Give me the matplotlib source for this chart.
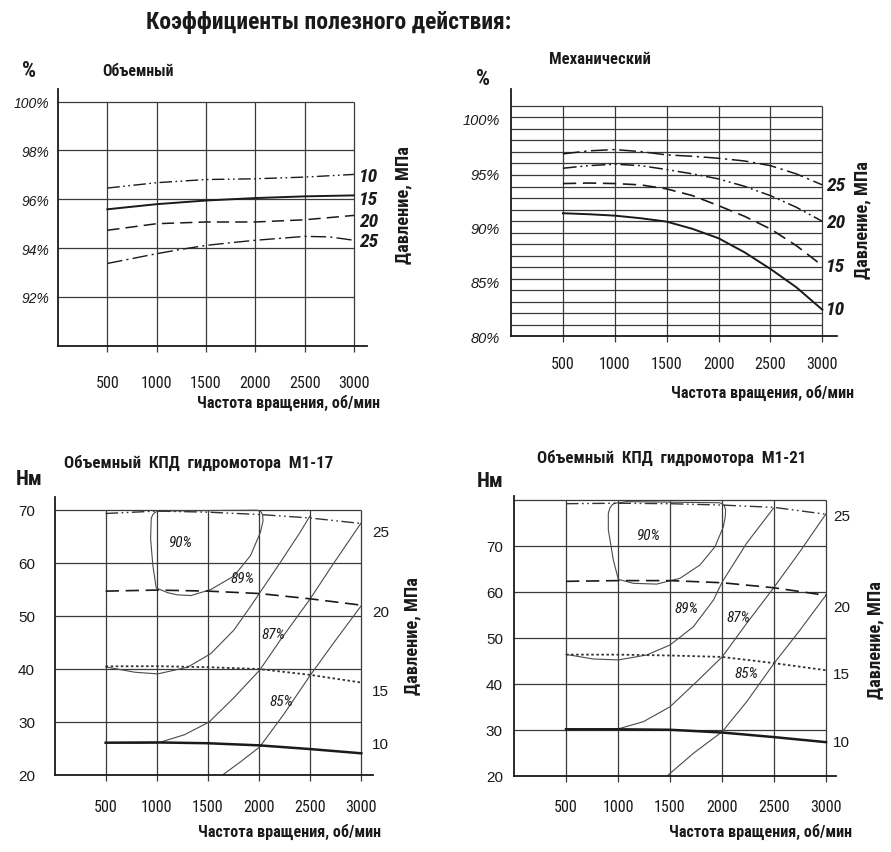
import os
import matplotlib
matplotlib.use("Agg")
import matplotlib.pyplot as plt
from matplotlib import font_manager
from matplotlib.font_manager import FontProperties

# ---------------------------------------------------------------- data
rpm = [500, 1000, 1500, 2000, 2500, 3000]
rpm_q = [500, 750, 1000, 1250, 1500, 1750, 2000, 2250, 2500, 2750, 3000]
rpm_labels = ["500", "1000", "1500", "2000", "2500", "3000"]

# volumetric efficiency, % (pressure 10/15/20/25 MPa)
vol_10 = [96.46, 96.68, 96.81, 96.84, 96.91, 97.02]
vol_15 = [95.59, 95.80, 95.95, 96.05, 96.12, 96.16]
vol_20 = [94.73, 95.00, 95.07, 95.07, 95.16, 95.34]
vol_25 = [93.37, 93.57, 93.77, 93.95, 94.11, 94.22, 94.32, 94.40, 94.48, 94.46, 94.32]
vol_ticks = [92, 94, 96, 98, 100]

# mechanical efficiency, %
mech_25 = [96.78, 97.06, 97.18, 96.99, 96.69, 96.56, 96.38, 96.13, 95.70, 94.94, 93.93]
mech_20 = [95.46, 95.70, 95.83, 95.70, 95.34, 94.94, 94.48, 93.80, 92.94, 91.87, 90.58]
mech_15 = [94.05, 94.10, 94.05, 93.93, 93.56, 92.94, 92.02, 91.04, 89.88, 88.34, 86.50]
mech_10 = [91.32, 91.23, 91.10, 90.86, 90.55, 89.88, 89.02, 87.73, 86.20, 84.51, 82.45]
mech_ticks = [80, 85, 90, 95, 100]

# motor M1-17: torque, N*m, at constant pressure
m17_p25 = [69.25, 69.70, 69.50, 69.06, 68.40, 67.36]
m17_p20 = [54.60, 54.80, 54.60, 54.15, 53.15, 51.95]
m17_p15 = [40.40, 40.44, 40.25, 39.90, 38.80, 37.35]
m17_p10 = [26.00, 26.05, 25.90, 25.50, 24.80, 24.00]
# M1-17 iso-efficiency lines (rpm, N*m)
m17_e90_rpm = [1011, 1500, 1981, 2018, 2035, 2040, 2014, 1917, 1755, 1528, 1334, 1200, 1108, 995, 962, 940, 946, 960, 979, 1011]
m17_e90_nm = [69.7, 69.8, 69.87, 69.6, 69.0, 67.9, 65.7, 61.3, 57.45, 54.9, 53.76, 53.9, 54.3, 55.2, 59.4, 64.5, 68.3, 69.0, 69.4, 69.7]
m17_e89_rpm = [500, 785, 1011, 1302, 1528, 1755, 1917, 2007, 2208, 2402, 2499]
m17_e89_nm = [40.3, 39.3, 38.98, 40.25, 42.8, 47.26, 51.7, 54.27, 60.0, 65.7, 68.8]
m17_e87_rpm = [500, 800, 1011, 1270, 1512, 1755, 2007, 2208, 2499, 2725, 3000]
m17_e87_nm = [26.0, 25.9, 25.95, 27.5, 29.9, 34.5, 39.7, 45.35, 53.1, 59.7, 67.5]
m17_e85_rpm = [1650, 1820, 2007, 2240, 2499, 2725, 3000]
m17_e85_nm = [20.0, 22.4, 25.2, 31.3, 38.66, 44.7, 51.85]
m17_eff_labels = ["90%", "89%", "87%", "85%"]
m17_eff_rpm = [1237, 1836, 2143, 2224]
m17_eff_nm = [63.8, 57.0, 46.6, 33.9]
m17_ticks = [20, 30, 40, 50, 60, 70]

# motor M1-21
m21_p25 = [79.20, 79.30, 79.20, 78.90, 78.40, 76.90]
m21_p20 = [62.30, 62.46, 62.46, 62.00, 60.90, 59.25]
m21_p15 = [46.35, 46.35, 46.16, 45.85, 44.50, 42.95]
m21_p10 = [30.10, 30.10, 30.00, 29.40, 28.40, 27.30]
m21_e90_rpm = [971, 1083, 1981, 2020, 2035, 2030, 2013, 1933, 1788, 1596, 1372, 1147, 1003, 955, 907, 907, 923, 945, 971]
m21_e90_nm = [79.3, 79.65, 79.4, 78.9, 77.8, 76.2, 74.2, 69.85, 65.86, 62.96, 61.7, 61.87, 62.74, 66.95, 73.5, 77.1, 78.3, 79.0, 79.3]
m21_e89_rpm = [500, 763, 1003, 1276, 1500, 1724, 1917, 2003, 2237, 2494]
m21_e89_nm = [46.4, 45.4, 45.2, 46.27, 48.45, 52.4, 58.2, 62.2, 70.6, 78.2]
m21_e87_rpm = [500, 800, 1019, 1244, 1500, 1756, 2003, 2237, 2500, 2750, 3000]
m21_e87_nm = [30.1, 30.0, 30.3, 31.76, 35.0, 40.46, 45.9, 53.16, 61.0, 68.8, 77.0]
m21_e85_rpm = [1475, 1724, 2003, 2237, 2500, 2750, 3000]
m21_e85_nm = [20.0, 24.86, 29.6, 36.1, 44.45, 51.7, 59.3]
m21_eff_labels = ["90%", "89%", "87%", "85%"]
m21_eff_rpm = [1292, 1660, 2157, 2237]
m21_eff_nm = [72.4, 56.4, 54.5, 42.3]
m21_ticks = [20, 30, 40, 50, 60, 70]

pressure_labels = ["10", "15", "20", "25"]


# ---------------------------------------------------------------- fonts
def font_file(patterns):
    """First installed font file whose name matches one of the patterns."""
    files = {os.path.basename(f.fname).lower().replace("_", "-"): f.fname
             for f in font_manager.fontManager.ttflist}
    for p in patterns:
        for base, path in sorted(files.items()):
            if base.startswith(p):
                return path
    return None


def make_font(patterns, family, weight="normal", style="normal", scale=1.0):
    path = font_file(patterns)
    if path:
        return lambda size: FontProperties(fname=path, size=size)
    return lambda size: FontProperties(family=family, weight=weight,
                                       style=style, size=size * scale)


COND_BOLD = make_font(["liberationsansnarrow-bold.", "liberationsansnarrow-bold-",
                       "notosans-extracondensedbold", "notosans-condensedbold",
                       "robotocondensed-bold.", "dejavusanscondensed-bold.",
                       "opensans-condensedbold"],
                      ["DejaVu Sans"], weight="bold", scale=0.8)
COND_BOLD_IT = make_font(["liberationsansnarrow-bolditalic", "notosans-extracondensedbolditalic",
                          "notosans-condensedbolditalic", "robotocondensed-bolditalic",
                          "dejavusanscondensed-boldoblique"],
                         ["DejaVu Sans"], weight="bold", style="italic", scale=0.85)
COND_REG = make_font(["liberationsansnarrow-regular", "liberationsansnarrow.",
                      "notosans-condensed.", "robotocondensed-regular",
                      "dejavusanscondensed."],
                     ["DejaVu Sans"], scale=0.85)
COND_IT = make_font(["liberationsansnarrow-italic", "notosans-condenseditalic",
                     "robotocondensed-italic", "dejavusanscondensed-oblique"],
                    ["DejaVu Sans"], style="italic", scale=0.85)
REG = ["Liberation Sans", "DejaVu Sans"]

W, H = 891, 853
fig = plt.figure(figsize=(W / 100, H / 100), dpi=100)
fig.patch.set_facecolor("white")

INK = "#1a1a1a"
GRID = "#3a3a3a"


def axes_px(x0, x1, y_top, y_bot):
    return fig.add_axes([x0 / W, 1 - y_bot / H, (x1 - x0) / W, (y_bot - y_top) / H])


def ftext(x, y, s, fp, **kw):
    fig.text(x / W, 1 - y / H, s, fontproperties=fp, color=INK,
             va="center", **kw)


def frame(ax, xmax, ylo, yhi, grid_top, hlines, h_left=0):
    ax.set_xlim(0, xmax)
    ax.set_ylim(ylo, yhi)
    ax.set_facecolor("none")
    for s in ("top", "right"):
        ax.spines[s].set_visible(False)
    for s in ("left", "bottom"):
        ax.spines[s].set_linewidth(1.3)
        ax.spines[s].set_color(INK)
    ax.hlines(hlines, h_left, 3000, color=GRID, lw=0.9, zorder=1)
    ax.vlines(rpm, ylo, grid_top, color=GRID, lw=0.9, zorder=1)
    ax.set_xticks(rpm)
    ax.set_xticklabels(rpm_labels, fontproperties=COND_REG(11.5), color=INK)
    ax.tick_params(axis="x", length=4, width=0.9, color=GRID, direction="out")


DASHDOT2 = (0, (9, 2.5, 1.2, 2.5, 1.2, 2.5))
DASHDOT = (0, (11, 3, 1.5, 3))
DASHED = (0, (8, 4))
DOTTED = (0, (1.4, 1.4))

AXLABEL = 11.6
PRESSURE = 13.2
SUB = 11.3

# ---------------------------------------------------------------- volumetric
ax1 = axes_px(58, 367, 90, 346.7)
frame(ax1, 3132, 90, 100.52, 100, vol_ticks)
ax1.set_yticks(vol_ticks)
ax1.set_yticklabels([f"{v}%" for v in vol_ticks], family=REG, style="italic",
                    fontsize=10, color=INK)
ax1.tick_params(axis="y", length=0, pad=6)
ax1.tick_params(axis="x", pad=17)
ax1.plot(rpm, vol_10, color=INK, lw=1.0, ls=DASHDOT2)
ax1.plot(rpm, vol_15, color=INK, lw=1.4, ls="-")
ax1.plot(rpm, vol_20, color=INK, lw=1.1, ls=DASHED)
ax1.plot(rpm_q, vol_25, color=INK, lw=1.0, ls=DASHDOT)

for lab, yy in zip(pressure_labels, [176.7, 200, 221.7, 241.7]):
    ftext(359, yy, lab, COND_BOLD_IT(14), ha="left")
ftext(403, 205, "Давление, МПа", COND_BOLD(PRESSURE), rotation=90, ha="center")
ftext(29, 71, "%", COND_BOLD(16), ha="center")
ftext(138, 71, "Объемный", COND_BOLD(SUB), ha="center")
ftext(289, 403, "Частота вращения, об/мин", COND_BOLD(AXLABEL), ha="center")

# ---------------------------------------------------------------- mechanical
ax2 = axes_px(511, 836.7, 90, 337.3)
mech_grid = [80 + k * 1.06 for k in range(1, 21)]
frame(ax2, 3139, 80, 102.75, 101.2, mech_grid, h_left=-30)
ax2.set_yticks(mech_ticks)
ax2.set_yticklabels([f"{v}%" for v in mech_ticks], family=REG, style="italic",
                    fontsize=10.5, color=INK)
ax2.tick_params(axis="y", length=0, pad=8)
ax2.tick_params(axis="x", pad=10)
ax2.plot(rpm_q, mech_25, color=INK, lw=1.1, ls=DASHDOT)
ax2.plot(rpm_q, mech_20, color=INK, lw=1.1, ls=DASHDOT2)
ax2.plot(rpm_q, mech_15, color=INK, lw=1.2, ls=DASHED)
ax2.plot(rpm_q, mech_10, color=INK, lw=1.4, ls="-")

for lab, yy in zip(pressure_labels, [310, 267, 223, 186]):
    ftext(826, yy, lab, COND_BOLD_IT(14), ha="left")
ftext(862, 220, "Давление, МПа", COND_BOLD(PRESSURE), rotation=90, ha="center")
ftext(483, 79, "%", COND_BOLD(16), ha="center")
ftext(600, 60, "Механический", COND_BOLD(12), ha="center")
ftext(763, 393, "Частота вращения, об/мин", COND_BOLD(AXLABEL), ha="center")

ftext(329, 22, "Коэффициенты полезного действия:", COND_BOLD(17), ha="center")


# ---------------------------------------------------------------- motor maps
def motor(ax, ticks, p25, p20, p15, p10, effs, labels, lab_rpm, lab_nm):
    ax.set_yticks(ticks)
    ax.set_yticklabels([str(t) for t in ticks], family=REG, fontsize=11,
                       color=INK)
    ax.tick_params(axis="y", length=0)
    ax.plot(rpm, p25, color="#333333", lw=1.0, ls=DASHDOT2, zorder=3)
    ax.plot(rpm, p20, color=INK, lw=1.2, ls=DASHED, zorder=3)
    ax.plot(rpm, p15, color="#333333", lw=1.3, ls=DOTTED, zorder=3)
    ax.plot(rpm, p10, color=INK, lw=1.8, ls="-", zorder=3)
    for xs, ys in effs:
        ax.plot(xs, ys, color="#4a4a4a", lw=0.8, zorder=2)
    for s, x, y in zip(labels, lab_rpm, lab_nm):
        ax.text(x, y, s, fontproperties=COND_IT(11), ha="center",
                va="center", color=INK, zorder=4)


ax3 = axes_px(54.5, 373, 498, 775.5)
frame(ax3, 3115, 20, 72.36, 70, [30, 40, 50, 60, 70])
ax3.tick_params(axis="x", pad=14)
motor(ax3, m17_ticks, m17_p25, m17_p20, m17_p15, m17_p10,
      [(m17_e90_rpm, m17_e90_nm), (m17_e89_rpm, m17_e89_nm),
       (m17_e87_rpm, m17_e87_nm), (m17_e85_rpm, m17_e85_nm)],
      m17_eff_labels, m17_eff_rpm, m17_eff_nm)
ax3.tick_params(axis="y", pad=14)
for lab, yy in zip(pressure_labels, [745, 692, 613, 533]):
    fig.text(372 / W, 1 - yy / H, lab, family=REG, fontsize=11, ha="left",
             va="center", color=INK)
ftext(412, 636, "Давление, МПа", COND_BOLD(PRESSURE), rotation=90, ha="center")
ftext(29, 480, "Нм", COND_BOLD(15), ha="center")
ftext(199, 463, "Объемный  КПД  гидромотора  М1-17", COND_BOLD(12.2), ha="center")
ftext(290, 832, "Частота вращения, об/мин", COND_BOLD(AXLABEL), ha="center")

ax4 = axes_px(514, 836, 496.7, 776.7)
frame(ax4, 3096, 20, 80.94, 80, [30, 40, 50, 60, 70, 80])
ax4.tick_params(axis="x", pad=13)
motor(ax4, m21_ticks, m21_p25, m21_p20, m21_p15, m21_p10,
      [(m21_e90_rpm, m21_e90_nm), (m21_e89_rpm, m21_e89_nm),
       (m21_e87_rpm, m21_e87_nm), (m21_e85_rpm, m21_e85_nm)],
      m21_eff_labels, m21_eff_rpm, m21_eff_nm)
ax4.tick_params(axis="y", pad=8)
for lab, yy in zip(pressure_labels, [743, 675, 608, 516.7]):
    fig.text(833 / W, 1 - yy / H, lab, family=REG, fontsize=11, ha="left",
             va="center", color=INK)
ftext(875, 640, "Давление, МПа", COND_BOLD(PRESSURE), rotation=90, ha="center")
ftext(490, 482, "Нм", COND_BOLD(15), ha="center")
ftext(672, 458, "Объемный  КПД  гидромотора  М1-21", COND_BOLD(12.2), ha="center")
ftext(761, 832, "Частота вращения, об/мин", COND_BOLD(AXLABEL), ha="center")

fig.savefig("out.png", dpi=100, facecolor="white")
